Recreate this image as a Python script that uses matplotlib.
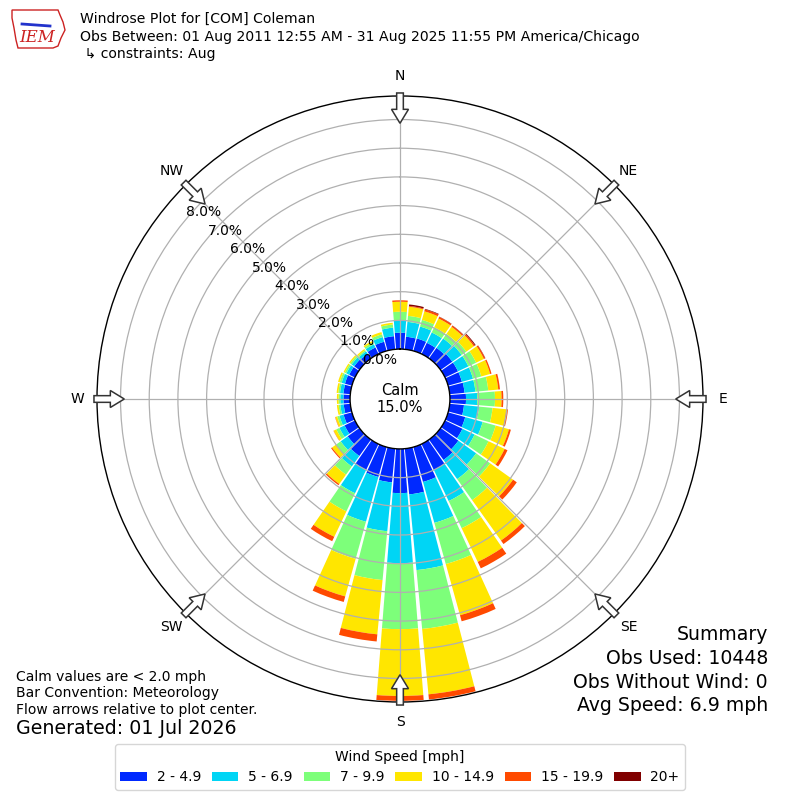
import numpy as np
import matplotlib.pyplot as plt
from matplotlib.patches import FancyArrow, Patch, Polygon
from matplotlib.lines import Line2D

# wind direction bins (deg, direction wind blows from)
directions = np.arange(0, 360, 10)
speed_labels = ['2 - 4.9', '5 - 6.9', '7 - 9.9', '10 - 14.9', '15 - 19.9', '20+']
colors = ['#0029ff', '#00d5f5', '#7dff7a', '#ffe600', '#ff4a00', '#800000']

# frequency [%] per direction for each speed bin
spd_2_5 = [0.57, 0.44, 0.45, 0.43, 0.45, 0.50, 0.50, 0.50, 0.52, 0.56,
           0.50, 0.62, 0.67, 0.76, 0.87, 1.00, 1.26, 1.60, 1.54, 1.18,
           1.08, 1.00, 0.70, 0.50, 0.40, 0.30, 0.23, 0.23, 0.24, 0.25,
           0.22, 0.22, 0.20, 0.25, 0.33, 0.46]
spd_5_7 = [0.43, 0.52, 0.43, 0.40, 0.40, 0.40, 0.40, 0.40, 0.38, 0.39,
           0.53, 0.63, 0.47, 0.76, 0.82, 1.20, 1.48, 2.65, 2.44, 1.71,
           1.62, 0.90, 0.45, 0.30, 0.20, 0.15, 0.12, 0.11, 0.12, 0.12,
           0.11, 0.11, 0.10, 0.12, 0.17, 0.30]
spd_7_10 = [0.30, 0.21, 0.24, 0.20, 0.20, 0.20, 0.30, 0.30, 0.45, 0.62,
            0.47, 0.47, 0.54, 0.60, 0.90, 1.05, 1.49, 2.06, 2.30, 1.71,
            1.34, 0.70, 0.35, 0.20, 0.12, 0.08, 0.06, 0.06, 0.06, 0.07,
            0.06, 0.06, 0.05, 0.07, 0.10, 0.11]
spd_10_15 = [0.35, 0.32, 0.31, 0.34, 0.30, 0.32, 0.30, 0.32, 0.35, 0.23,
             0.48, 0.48, 0.62, 0.98, 1.73, 1.30, 1.85, 2.29, 2.33, 1.90,
             1.36, 0.98, 0.40, 0.17, 0.10, 0.07, 0.06, 0.06, 0.06, 0.06,
             0.05, 0.05, 0.05, 0.06, 0.08, 0.06]
spd_15_20 = [0.05, 0.03, 0.07, 0.06, 0.05, 0.05, 0.05, 0.05, 0.06, 0.06,
             0.06, 0.07, 0.11, 0.16, 0.15, 0.25, 0.22, 0.18, 0.17, 0.25,
             0.20, 0.17, 0.05, 0.04, 0.01, 0.01, 0.00, 0.00, 0.00, 0.00,
             0.00, 0.00, 0.00, 0.00, 0.00, 0.00]
spd_20 = [0.00, 0.05, 0.02, 0.01, 0.01, 0.03, 0.01, 0.00, 0.00, 0.00,
          0.00, 0.00, 0.00, 0.00, 0.00, 0.00, 0.00, 0.00, 0.00, 0.00,
          0.00, 0.00, 0.00, 0.00, 0.00, 0.00, 0.00, 0.00, 0.00, 0.00,
          0.00, 0.00, 0.00, 0.00, 0.00, 0.00]
series = [spd_2_5, spd_5_7, spd_7_10, spd_10_15, spd_15_20, spd_20]

calm_pct = 15.0
rticks = np.arange(0, 9)
compass = ['N', 'NE', 'E', 'SE', 'S', 'SW', 'W', 'NW']

fig = plt.figure(figsize=(8, 8), dpi=100)
ax = fig.add_axes([0.12125, 0.1225, 0.7575, 0.7575], projection='polar')
ax.set_theta_zero_location('N')
ax.set_theta_direction(-1)

theta = np.radians(directions)
bottom = np.zeros(len(directions))
for vals, c in zip(series, colors):
    vals = np.array(vals)
    ax.bar(theta, vals, width=np.radians(9), bottom=bottom, color=c,
           linewidth=0, align='center', zorder=1)
    bottom += vals

rmax = 8.82
ax.set_ylim(0, rmax)
ax.set_rorigin(-1.74)

ax.set_xticks(np.radians(np.arange(0, 360, 45)))
ax.set_xticklabels([])
ax.set_yticks(rticks[1:])
ax.set_yticklabels([])
ax.grid(True, color='#b0b0b0', lw=0.9)
ax.spines['polar'].set_linewidth(1.0)
ax.spines['inner'].set_linewidth(1.0)

for k in rticks:
    ax.text(np.radians(310), k, '%.1f%%' % k, ha='left', va='bottom',
            fontsize=10, zorder=5)

# compass labels and flow arrows
for i, lab in enumerate(compass):
    a = np.radians(i * 45)
    ax.text(0.5 + 0.533 * np.sin(a), 0.5 + 0.533 * np.cos(a), lab,
            transform=ax.transAxes, ha='center', va='center', fontsize=10)
    r0 = 0.505
    arr = FancyArrow(0.5 + r0 * np.sin(a), 0.5 + r0 * np.cos(a),
                     -0.05 * np.sin(a), -0.05 * np.cos(a),
                     width=0.011, head_width=0.028, head_length=0.023,
                     length_includes_head=True, facecolor='white',
                     edgecolor='#333333', lw=1.1, transform=ax.transAxes,
                     clip_on=False, zorder=6)
    ax.add_patch(arr)

ax.text(0.5, 0.5, 'Calm\n%.1f%%' % calm_pct, transform=ax.transAxes,
        ha='center', va='center', fontsize=10.5, linespacing=1.2)

# header
fig.text(0.1, 1 - 19 / 800, 'Windrose Plot for [COM] Coleman', fontsize=10.1, va='center')
fig.text(0.1, 1 - 37 / 800,
         'Obs Between: 01 Aug 2011 12:55 AM - 31 Aug 2025 11:55 PM America/Chicago',
         fontsize=10.1, va='center')
fig.text(0.1, 1 - 54 / 800, ' \u21b3 constraints: Aug', fontsize=10.1, va='center')

# crude IEM logo
iowa = [(12, 10), (58, 10), (60, 15), (63, 22), (65, 30), (61, 38), (58, 46),
        (53, 48), (18, 48), (16, 40), (14, 28), (12, 18)]
fig.patches.append(Polygon([(x / 800, 1 - y / 800) for x, y in iowa], closed=True,
                           fill=False, edgecolor='#cc2222', lw=1.0,
                           transform=fig.transFigure))
fig.lines.append(Line2D([22 / 800, 50 / 800], [1 - 24 / 800, 1 - 26 / 800],
                        color='#2233cc', lw=2, transform=fig.transFigure))
fig.text(37 / 800, 1 - 38 / 800, 'IEM', color='#cc2222', fontsize=12,
         family='DejaVu Serif', style='italic', ha='center', va='center')

# summary
summ = ['Summary', 'Obs Used: 10448', 'Obs Without Wind: 0', 'Avg Speed: 6.9 mph']
for i, s in enumerate(summ):
    fig.text(768 / 800, 1 - (635 + i * 23.5) / 800, s, fontsize=13.6,
             ha='right', va='center')

notes = ['Calm values are < 2.0 mph', 'Bar Convention: Meteorology',
         'Flow arrows relative to plot center.']
for i, s in enumerate(notes):
    fig.text(16 / 800, 1 - (677 + i * 16.5) / 800, s, fontsize=10, va='center')
fig.text(16 / 800, 1 - 729 / 800, 'Generated: 01 Jul 2026', fontsize=13.7, va='center')

handles = [Patch(facecolor=c, edgecolor='none') for c in colors]
fig.legend(handles, speed_labels, loc='lower center', bbox_to_anchor=(0.5, 0.0125),
           ncol=6, title='Wind Speed [mph]', fontsize=10, title_fontsize=10,
           handlelength=1.9, handletextpad=0.7, columnspacing=0.8,
           borderaxespad=0, frameon=True)

fig.savefig('out.png', dpi=100)
